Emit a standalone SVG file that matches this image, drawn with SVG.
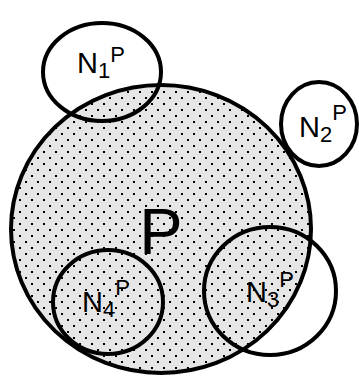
<svg xmlns="http://www.w3.org/2000/svg" width="359" height="379" viewBox="0 0 359 379">
<style>
.ring{fill:none;stroke:#000;stroke-width:4}
.lbl{font-family:"Liberation Sans",Arial,sans-serif;fill:#000}
.big{font-size:29px}
.small{font-size:22px}
</style>
<defs>
<pattern id="dots" width="12" height="12" patternUnits="userSpaceOnUse">
<rect width="12" height="12" fill="#e6e6e6"/>
<rect x="1" y="1" width="2" height="2" fill="#000"/>
<rect x="7" y="7" width="2" height="2" fill="#000"/>
</pattern>
</defs>
<g id="P">
<ellipse cx="161" cy="229" rx="150" ry="144" fill="url(#dots)" stroke="#000" stroke-width="4"/>
<text class="lbl" x="161" y="254" font-size="65" text-anchor="middle">P</text>
</g>
<g id="N1">
<ellipse class="ring" cx="102" cy="72" rx="59" ry="49"/>
<text class="lbl" x="77" y="73"><tspan class="big">N</tspan><tspan class="small" dy="5">1</tspan><tspan class="small" dy="-16">P</tspan></text>
</g>
<g id="N2">
<ellipse class="ring" cx="319" cy="124" rx="38" ry="42"/>
<text class="lbl" x="299" y="137"><tspan class="big">N</tspan><tspan class="small" dy="5">2</tspan><tspan class="small" dy="-22">P</tspan></text>
</g>
<g id="N3">
<ellipse class="ring" cx="270" cy="291" rx="66" ry="64"/>
<text class="lbl" x="246" y="302"><tspan class="big">N</tspan><tspan class="small" dy="5">3</tspan><tspan class="small" dy="-20" font-size="19">P</tspan></text>
</g>
<g id="N4">
<ellipse class="ring" cx="108" cy="302" rx="55" ry="52"/>
<text class="lbl" x="82" y="312"><tspan class="big">N</tspan><tspan class="small" dy="5">4</tspan><tspan class="small" dy="-22" font-size="18">P</tspan></text>
</g>
<g id="connectors"/>
</svg>
